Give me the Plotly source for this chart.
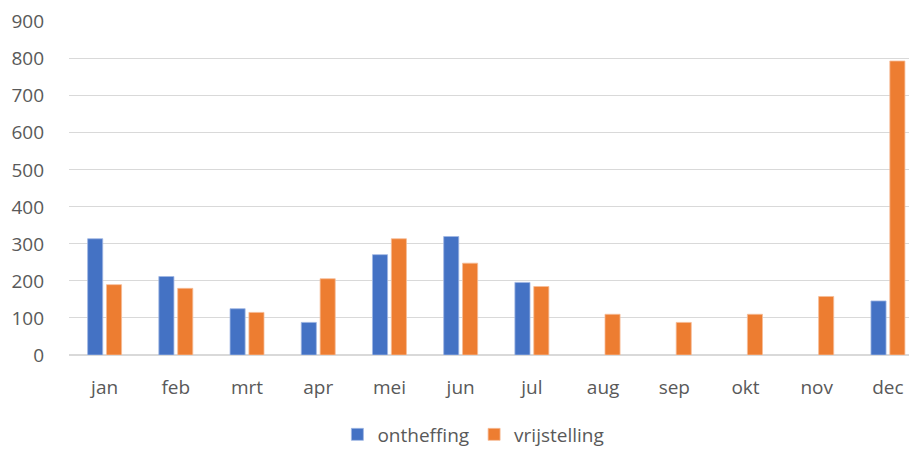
import plotly.graph_objects as go

months = ["jan", "feb", "mrt", "apr", "mei", "jun", "jul", "aug", "sep", "okt", "nov", "dec"]
ontheffing = [314, 212, 125, 88, 271, 320, 196, None, None, None, None, 146]
vrijstelling = [190, 180, 115, 206, 314, 248, 185, 110, 88, 110, 158, 794]
y_ticks = [0, 100, 200, 300, 400, 500, 600, 700, 800, 900]

fig = go.Figure()
fig.add_trace(go.Bar(name="ontheffing", x=months, y=ontheffing,
                     marker=dict(color="#4472C4", line=dict(color="#9fb6e3", width=0.8))))
fig.add_trace(go.Bar(name="vrijstelling", x=months, y=vrijstelling,
                     marker=dict(color="#ED7D31", line=dict(color="#f6bd98", width=0.8))))

font_family = "Open Sans, Liberation Sans, sans-serif"
# page body adds an 8px offset, so the figure is 8px smaller than the window
fig.update_layout(
    width=909, height=442,
    margin=dict(l=61, r=2, t=13, b=95, autoexpand=False),
    paper_bgcolor="white", plot_bgcolor="white",
    barmode="group", bargap=0.47, bargroupgap=0.2,
    font=dict(family=font_family, size=19, color="#595959"),
    legend=dict(orientation="h", x=0.478, xanchor="center",
                yref="container", y=0.078, yanchor="top",
                font=dict(size=19, color="#595959"), itemwidth=30),
    showlegend=True,
)
fig.update_yaxes(range=[0, 902], tickvals=y_ticks, showgrid=True, gridcolor="#d9d9d9",
                 gridwidth=1, zeroline=True, zerolinecolor="#d9d9d9", showline=False,
                 ticks="", ticklabelstandoff=24, automargin=False, ticklabeloverflow="allow",
                 tickfont=dict(size=19, color="#595959"))
fig.update_xaxes(range=[-0.5, 11.38], showgrid=False, showline=False, ticks="",
                 ticklabelstandoff=19, automargin=False, ticklabeloverflow="allow",
                 tickfont=dict(size=19, color="#595959"))

fig.write_html("out.html")
